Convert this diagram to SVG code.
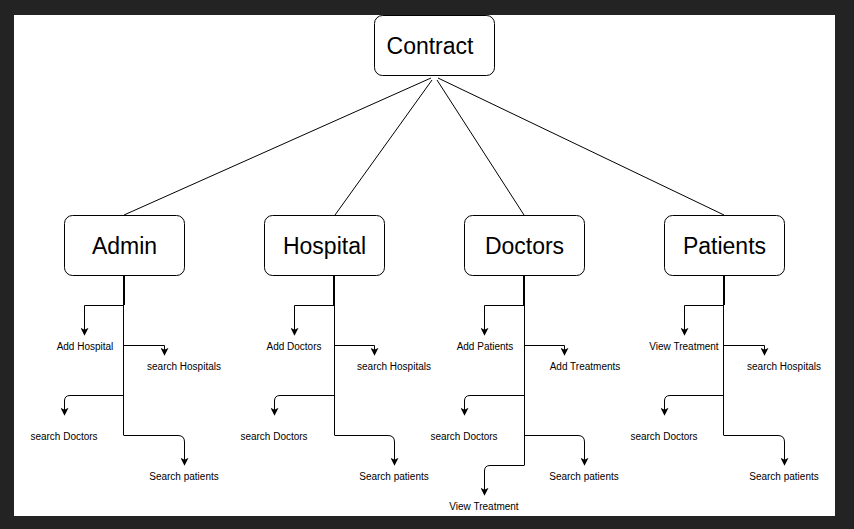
<svg xmlns="http://www.w3.org/2000/svg" width="854" height="529" viewBox="0 0 854 529">
<defs>
<marker id="arr" viewBox="0 0 10 10" refX="9" refY="5" markerWidth="8" markerHeight="8" markerUnits="userSpaceOnUse" orient="auto">
<path d="M0,0 L10,5 L0,10 L2.5,5 z" fill="#000"/>
</marker>
<style>
.box{fill:#fff;stroke:#000;stroke-width:1}
.big{font-family:"Liberation Sans",Arial,sans-serif;font-size:23px;fill:#000;text-anchor:middle;dominant-baseline:central}
.lbl{font-family:"Liberation Sans",Arial,sans-serif;font-size:10px;fill:#000;text-anchor:middle;dominant-baseline:central}
.ln{fill:none;stroke:#000;stroke-width:1}
.thick{fill:none;stroke:#000;stroke-width:2}
.ar{fill:none;stroke:#000;stroke-width:1;marker-end:url(#arr)}
</style>
</defs>
<rect x="0" y="0" width="854" height="529" fill="#232323"/>
<rect x="14" y="15" width="821" height="501" fill="#fff"/>

<g id="connectors">
<path class="ln" d="M431,78 L124,215"/>
<path class="ln" d="M432,80 L335,215"/>
<path class="ln" d="M437,80 L524,215"/>
<path class="ln" d="M438,78 L724,215"/>

<g id="admin-links">
<path class="thick" d="M124,275 V305"/>
<path class="ln" d="M123.5,305 V435"/>
<path class="ar" d="M124,305.5 H84.5 V335"/>
<path class="ar" d="M124,345.5 H164.5 V355"/>
<path class="ar" d="M123.5,395.5 H70 Q64.5,395.5 64.5,401 V415"/>
<path class="ar" d="M123.5,435.5 H178 Q184.5,435.5 184.5,442 V465"/>
</g>
<g id="hospital-links">
<path class="thick" d="M334,275 V305"/>
<path class="ln" d="M334.5,305 V435"/>
<path class="ar" d="M334,305.5 H294.5 V335"/>
<path class="ar" d="M334,345.5 H374.5 V355"/>
<path class="ar" d="M334.5,395.5 H280 Q274.5,395.5 274.5,401 V415"/>
<path class="ar" d="M334.5,435.5 H388 Q394.5,435.5 394.5,442 V465"/>
</g>
<g id="doctors-links">
<path class="thick" d="M524,275 V305"/>
<path class="ln" d="M524.5,305 V465"/>
<path class="ar" d="M524,305.5 H484.5 V335"/>
<path class="ar" d="M524,345.5 H564.5 V355"/>
<path class="ar" d="M524.5,395.5 H470 Q464.5,395.5 464.5,401 V415"/>
<path class="ar" d="M524.5,435.5 H578 Q584.5,435.5 584.5,442 V465"/>
<path class="ar" d="M524.5,465.5 H490 Q484.5,465.5 484.5,471 V495"/>
</g>
<g id="patients-links">
<path class="thick" d="M724,275 V305"/>
<path class="ln" d="M723.5,305 V435"/>
<path class="ar" d="M724,305.5 H684.5 V335"/>
<path class="ar" d="M724,345.5 H764.5 V355"/>
<path class="ar" d="M723.5,395.5 H670 Q664.5,395.5 664.5,401 V415"/>
<path class="ar" d="M723.5,435.5 H778 Q784.5,435.5 784.5,442 V465"/>
</g>
</g>

<g id="contract"><rect class="box" x="374.5" y="15.5" width="120" height="60" rx="8"/><text class="big" x="430" y="46">Contract</text></g>
<g id="admin"><rect class="box" x="64.5" y="215.5" width="120" height="60" rx="8"/><text class="big" x="124.5" y="246">Admin</text></g>
<g id="hospital"><rect class="box" x="264.5" y="215.5" width="120" height="60" rx="8"/><text class="big" x="324.5" y="246">Hospital</text></g>
<g id="doctors"><rect class="box" x="464.5" y="215.5" width="120" height="60" rx="8"/><text class="big" x="524.5" y="246">Doctors</text></g>
<g id="patients"><rect class="box" x="664.5" y="215.5" width="120" height="60" rx="8"/><text class="big" x="724.5" y="246">Patients</text></g>

<g id="admin-labels">
<text class="lbl" x="85" y="346">Add Hospital</text>
<text class="lbl" x="184" y="366">search Hospitals</text>
<text class="lbl" x="64" y="436">search Doctors</text>
<text class="lbl" x="184" y="476">Search patients</text>
</g>
<g id="hospital-labels">
<text class="lbl" x="294" y="346">Add Doctors</text>
<text class="lbl" x="394" y="366">search Hospitals</text>
<text class="lbl" x="274" y="436">search Doctors</text>
<text class="lbl" x="394" y="476">Search patients</text>
</g>
<g id="doctors-labels">
<text class="lbl" x="485" y="346">Add Patients</text>
<text class="lbl" x="585" y="366">Add Treatments</text>
<text class="lbl" x="464" y="436">search Doctors</text>
<text class="lbl" x="584" y="476">Search patients</text>
<text class="lbl" x="484" y="506">View Treatment</text>
</g>
<g id="patients-labels">
<text class="lbl" x="684" y="346">View Treatment</text>
<text class="lbl" x="784" y="366">search Hospitals</text>
<text class="lbl" x="664" y="436">search Doctors</text>
<text class="lbl" x="784" y="476">Search patients</text>
</g>
</svg>
